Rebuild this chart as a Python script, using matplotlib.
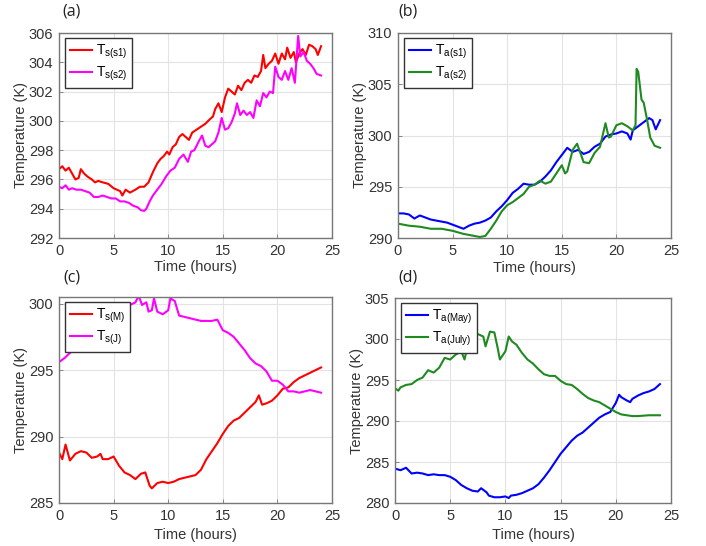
import matplotlib
matplotlib.use("Agg")
import matplotlib.pyplot as plt

plt.rcParams['font.family'] = ['Liberation Sans', 'DejaVu Sans']

# ---------------- data ----------------
# (a) surface temperatures, two sites
t_s1 = [0, 0.3, 0.6, 0.9, 1.2, 1.5, 1.8, 2.0, 2.3, 2.6, 3.0, 3.3, 3.6, 4.0, 4.5, 5.0, 5.3, 5.6, 5.8,
        6.1, 6.5, 7.0, 7.4, 7.8, 8.2, 8.6, 9.0, 9.3, 9.6, 9.9, 10.1, 10.4, 10.7, 11.0, 11.3, 11.6,
        11.9, 12.2, 12.6, 13.0, 13.4, 13.8, 14.1, 14.3, 14.6, 14.9, 15.2, 15.5, 15.8, 16.1, 16.4,
        16.7, 17.0, 17.3, 17.6, 17.9, 18.2, 18.5, 18.7, 18.9, 19.2, 19.5, 19.8, 20.1, 20.4, 20.7,
        20.9, 21.2, 21.5, 21.7, 22.0, 22.3, 22.6, 22.9, 23.2, 23.5, 23.7, 24.0]
T_s1 = [296.7, 296.9, 296.6, 296.8, 296.4, 296.0, 296.1, 296.7, 296.4, 296.2, 296.0, 295.8, 295.9,
        295.8, 295.7, 295.4, 295.3, 295.2, 294.9, 295.3, 295.1, 295.3, 295.5, 295.5, 295.8, 296.5,
        297.1, 297.4, 297.6, 297.9, 297.7, 298.2, 298.4, 298.9, 299.1, 298.9, 298.7, 299.2, 299.4,
        299.6, 299.8, 300.1, 300.3, 300.8, 301.2, 300.6, 301.6, 302.2, 302.0, 301.8, 302.4, 302.1,
        302.6, 302.8, 302.6, 303.1, 303.0, 303.4, 304.5, 303.6, 303.9, 304.1, 304.6, 303.9, 304.6,
        304.2, 305.0, 304.3, 304.7, 304.0, 304.6, 304.9, 304.5, 305.2, 305.1, 304.9, 304.5, 305.1]

t_s2 = [0, 0.3, 0.6, 0.9, 1.2, 1.6, 2.0, 2.4, 2.8, 3.2, 3.6, 4.0, 4.4, 4.8, 5.2, 5.6, 6.0, 6.4,
        6.8, 7.2, 7.5, 7.8, 8.0, 8.3, 8.6, 9.0, 9.4, 9.8, 10.2, 10.6, 11.0, 11.4, 11.8, 12.1, 12.4,
        12.8, 13.1, 13.4, 13.7, 14.0, 14.3, 14.6, 14.9, 15.2, 15.5, 15.8, 16.1, 16.3, 16.6, 16.9,
        17.2, 17.5, 17.8, 18.1, 18.4, 18.7, 19.0, 19.3, 19.6, 19.8, 20.1, 20.4, 20.7, 21.0, 21.3,
        21.6, 21.9, 22.1, 22.4, 22.7, 23.0, 23.3, 23.6, 24.0]
T_s2 = [295.5, 295.4, 295.6, 295.3, 295.4, 295.3, 295.3, 295.2, 295.1, 294.8, 294.8, 294.9, 294.8,
        294.7, 294.7, 294.5, 294.5, 294.4, 294.2, 294.1, 293.9, 293.85, 294.0, 294.5, 294.9, 295.3,
        295.7, 296.2, 296.6, 296.8, 297.4, 297.7, 297.2, 297.9, 298.0, 298.6, 299.0, 298.3, 298.2,
        298.4, 298.6, 299.2, 300.2, 299.4, 299.5, 299.9, 300.5, 301.2, 300.4, 300.7, 300.4, 300.6,
        300.2, 301.4, 301.0, 301.9, 301.6, 302.0, 301.9, 303.7, 303.0, 302.8, 303.4, 302.8, 303.6,
        302.6, 305.8, 304.4, 304.7, 304.1, 303.9, 303.6, 303.2, 303.1]

# (b) air temperatures, two sites
t_a1 = [0, 0.5, 1.0, 1.5, 2.0, 2.5, 3.0, 3.5, 4.0, 4.5, 5.0, 5.5, 6.0, 6.5, 7.0, 7.5, 8.0, 8.5,
        9.0, 9.5, 10.0, 10.5, 11.0, 11.5, 12.0, 12.5, 13.0, 13.5, 14.0, 14.5, 15.0, 15.5, 16.0,
        16.5, 17.0, 17.5, 18.0, 18.5, 19.0, 19.5, 20.0, 20.5, 21.0, 21.3, 21.5, 22.0, 22.5, 23.0,
        23.3, 23.6, 24.0]
T_a1 = [292.4, 292.4, 292.3, 291.9, 292.2, 292.0, 291.8, 291.7, 291.6, 291.5, 291.3, 291.1, 290.9,
        291.2, 291.4, 291.5, 291.7, 292.0, 292.6, 293.1, 293.7, 294.4, 294.8, 295.3, 295.2, 295.2,
        295.5, 296.0, 296.6, 297.4, 298.1, 298.8, 298.4, 298.6, 298.2, 298.4, 298.9, 299.2, 299.9,
        300.1, 300.2, 300.4, 300.2, 299.6, 300.5, 300.9, 301.3, 301.7, 301.5, 300.6, 301.5]

t_a2 = [0, 1.0, 2.0, 3.0, 4.0, 5.0, 6.0, 7.0, 7.5, 8.0, 8.5, 9.0, 9.5, 10.0, 10.5, 11.0, 11.5,
        12.0, 12.5, 13.0, 13.5, 14.0, 14.5, 15.0, 15.3, 15.5, 16.0, 16.4, 17.0, 17.5, 18.0, 18.5,
        19.0, 19.3, 19.5, 20.0, 20.5, 21.0, 21.5, 21.75, 21.85, 22.0, 22.3, 22.5, 22.8, 23.1,
        23.5, 24.0]
T_a2 = [291.4, 291.2, 291.1, 290.9, 290.9, 290.7, 290.4, 290.2, 290.1, 290.2, 290.9, 291.7, 292.6,
        293.2, 293.5, 293.9, 294.3, 295.0, 295.2, 295.6, 295.3, 295.5, 296.3, 297.1, 296.3, 296.5,
        298.6, 299.2, 297.4, 297.3, 298.3, 298.9, 301.2, 299.8, 299.9, 301.0, 301.2, 300.9, 300.5,
        301.0, 306.5, 306.2, 303.5, 303.2, 301.6, 299.8, 299.0, 298.8]

# (c) surface temperatures, May vs July
t_sM = [0, 0.3, 0.6, 1.0, 1.5, 2.0, 2.5, 3.0, 3.5, 3.8, 4.0, 4.5, 5.0, 5.5, 6.0, 6.5, 7.0, 7.5,
        7.9, 8.3, 8.5, 9.0, 9.5, 10.0, 10.5, 11.0, 11.5, 12.0, 12.5, 13.0, 13.5, 14.0, 14.5, 15.0,
        15.5, 16.0, 16.5, 17.0, 17.5, 18.0, 18.3, 18.6, 19.0, 19.5, 20.0, 20.5, 21.0, 21.5, 22.0,
        22.5, 23.0, 23.5, 24.0]
T_sM = [288.8, 288.3, 289.4, 288.2, 288.7, 288.9, 288.8, 288.4, 288.5, 288.7, 288.3, 288.3, 288.5,
        287.8, 287.3, 287.1, 286.8, 287.2, 287.3, 286.3, 286.1, 286.5, 286.6, 286.5, 286.6, 286.8,
        286.9, 287.0, 287.1, 287.5, 288.3, 288.9, 289.5, 290.2, 290.8, 291.2, 291.4, 291.8, 292.2,
        292.6, 293.1, 292.4, 292.5, 292.7, 293.1, 293.6, 293.7, 294.1, 294.4, 294.6, 294.8, 295.0,
        295.2]

t_sJ = [0, 0.5, 1.0, 1.5, 2.0, 3.0, 4.0, 5.0, 5.8, 6.2, 6.5, 7.0, 7.3, 7.6, 8.0, 8.2, 8.5, 8.7,
        9.0, 9.5, 10.0, 10.2, 10.6, 11.0, 11.5, 12.0, 12.5, 13.0, 13.5, 14.0, 14.5, 15.0, 15.5,
        16.0, 16.5, 17.0, 17.5, 18.0, 18.5, 19.0, 19.5, 20.0, 20.5, 21.0, 21.5, 22.0, 22.5, 23.0,
        23.5, 24.0]
T_sJ = [295.6, 295.9, 296.3, 296.5, 296.7, 297.3, 297.8, 298.3, 298.8, 298.4, 299.9, 300.1, 300.6,
        299.9, 300.1, 299.4, 299.5, 300.4, 299.4, 299.2, 299.5, 300.4, 300.2, 299.1, 299.0, 298.9,
        298.8, 298.7, 298.7, 298.7, 298.8, 298.0, 297.8, 297.5, 297.0, 296.5, 295.9, 295.5, 295.3,
        294.9, 294.2, 294.2, 293.9, 293.4, 293.4, 293.3, 293.4, 293.5, 293.4, 293.3]

# (d) air temperatures, May vs July
t_aM = [0, 0.5, 1.0, 1.5, 2.0, 2.5, 3.0, 3.5, 4.0, 4.5, 5.0, 5.5, 6.0, 6.5, 7.0, 7.5, 7.8, 8.3,
        8.5, 9.0, 9.5, 10.0, 10.3, 10.5, 11.0, 11.5, 12.0, 12.5, 13.0, 13.5, 14.0, 14.5, 15.0,
        15.5, 16.0, 16.5, 17.0, 17.5, 18.0, 18.5, 19.0, 19.5, 20.0, 20.3, 20.5, 21.0, 21.3, 21.5,
        22.0, 22.5, 23.0, 23.5, 24.0]
T_aM = [284.2, 284.0, 284.3, 283.6, 283.7, 283.6, 283.4, 283.5, 283.4, 283.4, 283.2, 282.8, 282.2,
        281.8, 281.5, 281.4, 281.8, 281.3, 280.9, 280.7, 280.7, 280.8, 280.6, 280.9, 281.0, 281.2,
        281.5, 281.8, 282.3, 283.1, 284.0, 285.0, 286.0, 286.8, 287.6, 288.2, 288.6, 289.2, 289.8,
        290.4, 290.8, 291.1, 292.2, 293.2, 292.9, 292.5, 292.3, 292.7, 293.1, 293.4, 293.6, 293.9,
        294.5]

t_aJ = [0, 0.3, 0.5, 1.0, 1.5, 2.0, 2.5, 3.0, 3.5, 4.0, 4.5, 5.0, 5.5, 6.0, 6.3, 6.5, 7.0, 7.5,
        8.0, 8.2, 8.6, 9.0, 9.3, 9.5, 10.0, 10.3, 10.6, 11.0, 11.5, 12.0, 12.5, 13.0, 13.5, 14.0,
        14.5, 15.0, 15.5, 16.0, 16.5, 17.0, 17.5, 18.0, 18.5, 19.0, 19.5, 20.0, 20.5, 21.0, 21.5,
        22.0, 23.0, 24.0]
T_aJ = [294.0, 293.7, 294.1, 294.4, 294.5, 295.0, 295.3, 296.2, 295.9, 296.5, 297.7, 297.5, 298.1,
        298.5, 297.5, 298.7, 299.9, 300.6, 300.3, 299.1, 300.9, 300.8, 298.9, 297.5, 298.5, 300.3,
        299.7, 299.3, 298.3, 297.5, 297.0, 296.3, 295.7, 295.5, 295.5, 294.9, 294.5, 294.4, 293.9,
        293.3, 292.8, 292.5, 292.3, 291.9, 291.5, 291.1, 290.8, 290.7, 290.6, 290.6, 290.7, 290.7]

x_ticks = [0, 5, 10, 15, 20, 25]
panel_labels = ['(a)', '(b)', '(c)', '(d)']

# ---------------- figure ----------------
W, H = 706, 546
fig = plt.figure(figsize=(W / 100, H / 100), dpi=100)

def frac(l, r, t, b):
    return [l / W, 1 - b / H, (r - l) / W, (b - t) / H]

RED, MAG, BLUE, GREEN = '#ff0000', '#ff00ff', '#0000ff', '#1f8a1f'

panels = [
    dict(rect=frac(59, 332, 33, 238), ylim=(292, 306), yt=list(range(292, 307, 2)),
         series=[(t_s1, T_s1, RED, r'$\mathregular{T_{s(s1)}}$'),
                 (t_s2, T_s2, MAG, r'$\mathregular{T_{s(s2)}}$')],
         lab=(62, 12), xl=-0.105),
    dict(rect=frac(398, 671, 33, 238), ylim=(290, 310), yt=list(range(290, 311, 5)),
         series=[(t_a1, T_a1, BLUE, r'$\mathregular{T_{a(s1)}}$'),
                 (t_a2, T_a2, GREEN, r'$\mathregular{T_{a(s2)}}$')],
         lab=(398, 12), xl=-0.11),
    dict(rect=frac(59, 332, 297, 503), ylim=(285, 300.5), yt=[285, 290, 295, 300],
         series=[(t_sM, T_sM, RED, r'$\mathregular{T_{s(M)}}$'),
                 (t_sJ, T_sJ, MAG, r'$\mathregular{T_{s(J)}}$')],
         lab=(63, 277), xl=-0.12),
    dict(rect=frac(395, 671, 298, 503), ylim=(280, 305), yt=list(range(280, 306, 5)),
         series=[(t_aM, T_aM, BLUE, r'$\mathregular{T_{a(May)}}$'),
                 (t_aJ, T_aJ, GREEN, r'$\mathregular{T_{a(July)}}$')],
         lab=(398, 277), xl=-0.12),
]

for p, plab in zip(panels, panel_labels):
    ax = fig.add_axes(p['rect'])
    for tt, vv, c, name in p['series']:
        ax.plot(tt, vv, color=c, lw=1.5, label=name)
    ax.set_xlim(0, 25)
    ax.set_ylim(*p['ylim'])
    ax.set_xticks(x_ticks)
    ax.set_yticks(p['yt'])
    ax.grid(True, color='#e3e3e3', lw=0.8)
    ax.set_axisbelow(True)
    for s in ax.spines.values():
        s.set_color('#777777')
        s.set_linewidth(1.0)
    ax.tick_params(direction='in', length=3, width=0.6, color='#777777',
                   labelsize=10.5, labelcolor='#333333', pad=4)
    ax.set_xlabel('Time (hours)', fontsize=10.5, color='#333333')
    ax.set_ylabel('Temperature (K)', fontsize=10.5, color='#333333')
    ax.xaxis.set_label_coords(0.5, p['xl'])
    ax.yaxis.set_label_coords(-0.112, 0.5)
    leg = ax.legend(loc='upper left', bbox_to_anchor=(0.022, 0.975), borderaxespad=0,
                    fancybox=False, framealpha=1, edgecolor='#333333', fontsize=10,
                    handlelength=1.6, handletextpad=0.25, borderpad=0.35, labelspacing=0.25)
    leg.get_frame().set_linewidth(1.0)
    fig.text(p['lab'][0] / W, 1 - p['lab'][1] / H, plab, fontsize=11.5,
             family=['Open Sans', 'DejaVu Sans'], va='center', ha='left', color='#222222')

fig.savefig('out.png', dpi=100)
